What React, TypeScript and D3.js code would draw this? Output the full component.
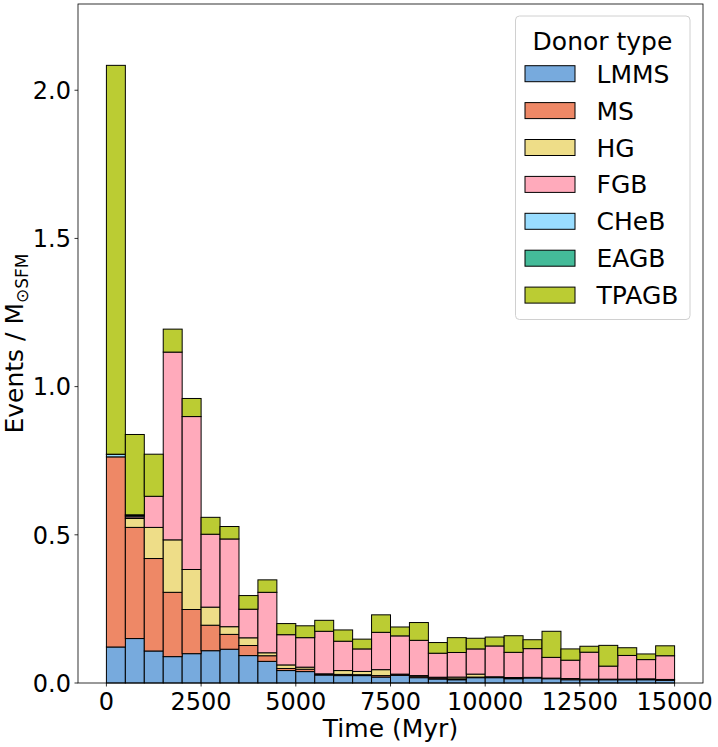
import { useEffect, useRef } from "react";
import * as d3 from "d3";

// bin starts (Myr), 500 Myr wide
const binStarts: number[] = d3.range(0, 15000, 500);
const binWidth = 500;

const donorTypes = ["LMMS", "MS", "HG", "FGB", "CHeB", "EAGB", "TPAGB"];
const donorColors = ["#77AADD", "#EE8866", "#EEDD88", "#FFAABB", "#99DDFF", "#44BB99", "#BBCC33"];

const lmms = [0.1215, 0.150, 0.108, 0.089, 0.099, 0.109, 0.114, 0.0925, 0.073, 0.042, 0.0385, 0.027, 0.025, 0.025, 0.020, 0.026, 0.018, 0.0135, 0.011, 0.018, 0.018, 0.0145, 0.017, 0.0145, 0.011, 0.011, 0.011, 0.011, 0.011, 0.009];
const ms = [0.6415, 0.375, 0.312, 0.217, 0.149, 0.086, 0.050, 0.034, 0.019, 0.007, 0.008, 0.003, 0.004, 0.003, 0.005, 0.002, 0.005, 0.004, 0.003, 0.002, 0.001, 0.003, 0.002, 0.002, 0.004, 0.002, 0.002, 0.002, 0.003, 0.003];
const hg = [0.0, 0.030, 0.105, 0.177, 0.135, 0.061, 0.026, 0.026, 0.010, 0.012, 0.007, 0.001, 0.013, 0.011, 0.020, 0.002, 0.002, 0.002, 0.006, 0.010, 0.002, 0.001, 0.0, 0.0, 0.0, 0.0, 0.0, 0.0, 0.0, 0.0];
const fgb = [0.0, 0.0055, 0.105, 0.6335, 0.516, 0.246, 0.296, 0.0965, 0.204, 0.102, 0.0995, 0.1435, 0.099, 0.076, 0.126, 0.129, 0.119, 0.081, 0.083, 0.085, 0.104, 0.085, 0.097, 0.070, 0.062, 0.091, 0.044, 0.080, 0.065, 0.080];
const cheb = [0.008, 0.004, 0, 0, 0, 0, 0, 0, 0, 0, 0, 0, 0, 0, 0, 0, 0, 0, 0, 0, 0, 0, 0, 0, 0, 0, 0, 0, 0, 0];
const eagb = [0.001, 0.003, 0, 0, 0, 0, 0, 0, 0, 0, 0, 0, 0, 0, 0, 0, 0, 0, 0, 0, 0, 0, 0, 0, 0, 0, 0, 0, 0, 0];
const tpagb = [1.312, 0.271, 0.142, 0.0775, 0.061, 0.057, 0.042, 0.046, 0.042, 0.0375, 0.040, 0.037, 0.038, 0.033, 0.059, 0.030, 0.060, 0.036, 0.050, 0.036, 0.030, 0.056, 0.030, 0.088, 0.038, 0.020, 0.070, 0.026, 0.019, 0.0335];

const xTicks = [0, 2500, 5000, 7500, 10000, 12500, 15000];
const yTicks = [0.0, 0.5, 1.0, 1.5, 2.0];

export default function App() {
    const svgRef = useRef<SVGSVGElement>(null);

    useEffect(() => {
        document.body.style.margin = "0";
        if (!svgRef.current) return;

        const width = 718;
        const height = 747;
        const left = 78, right = 703, top = 4, bottom = 683;
        const font = "DejaVu Sans, sans-serif";

        const svg = d3.select(svgRef.current);
        svg.selectAll("*").remove();
        svg.attr("width", width).attr("height", height);

        const x = d3.scaleLinear().domain([-750, 15750]).range([left, right]);
        const y = d3.scaleLinear().domain([0, 2.291]).range([bottom, top]);

        const series = [lmms, ms, hg, fgb, cheb, eagb, tpagb];
        const rows = binStarts.map((b, i) => {
            const row: Record<string, number> = { bin: b };
            donorTypes.forEach((k, j) => (row[k] = series[j][i]));
            return row;
        });

        const stacked = d3.stack<Record<string, number>>().keys(donorTypes)(rows);

        const bars = svg.append("g");
        stacked.forEach((layer, j) => {
            bars.append("g")
                .selectAll("rect")
                .data(layer.filter((d) => d[1] - d[0] > 0))
                .enter()
                .append("rect")
                .attr("x", (d) => x(d.data.bin))
                .attr("width", (d) => x(d.data.bin + binWidth) - x(d.data.bin))
                .attr("y", (d) => y(d[1]))
                .attr("height", (d) => y(d[0]) - y(d[1]))
                .attr("fill", donorColors[j])
                .attr("stroke", "#000")
                .attr("stroke-width", 1);
        });

        // spines
        svg.append("rect")
            .attr("x", left)
            .attr("y", top)
            .attr("width", right - left)
            .attr("height", bottom - top)
            .attr("fill", "none")
            .attr("stroke", "#000")
            .attr("stroke-width", 0.8);

        // x ticks
        const xg = svg.append("g");
        xTicks.forEach((t) => {
            xg.append("line")
                .attr("x1", x(t)).attr("x2", x(t))
                .attr("y1", bottom).attr("y2", bottom + 3.5)
                .attr("stroke", "#000").attr("stroke-width", 0.8);
            xg.append("text")
                .attr("x", x(t))
                .attr("y", bottom + 26.5)
                .attr("text-anchor", "middle")
                .attr("font-family", font)
                .attr("font-size", "24px")
                .text(String(t));
        });

        // y ticks
        const yg = svg.append("g");
        yTicks.forEach((t) => {
            yg.append("line")
                .attr("x1", left - 3.5).attr("x2", left)
                .attr("y1", y(t)).attr("y2", y(t))
                .attr("stroke", "#000").attr("stroke-width", 0.8);
            yg.append("text")
                .attr("x", left - 7)
                .attr("y", y(t) + 8.7)
                .attr("text-anchor", "end")
                .attr("font-family", font)
                .attr("font-size", "24px")
                .text(t.toFixed(1));
        });

        // axis labels
        svg.append("text")
            .attr("x", (left + right) / 2)
            .attr("y", 736.5)
            .attr("text-anchor", "middle")
            .attr("font-family", font)
            .attr("font-size", "25px")
            .text("Time (Myr)");

        const yl = svg.append("text")
            .attr("transform", `translate(23,${(top + bottom) / 2}) rotate(-90)`)
            .attr("text-anchor", "middle")
            .attr("font-family", font)
            .attr("font-size", "25px");
        yl.append("tspan").text("Events / M");
        yl.append("tspan").attr("font-size", "17px").attr("dy", 4.5).text("⊙SFM");

        // legend
        const lg = svg.append("g");
        lg.append("rect")
            .attr("x", 515.5).attr("y", 16)
            .attr("width", 174.5).attr("height", 303.5)
            .attr("rx", 4)
            .attr("fill", "#fff").attr("fill-opacity", 0.8)
            .attr("stroke", "#d0d0d0").attr("stroke-width", 1);
        lg.append("text")
            .attr("x", 602.5).attr("y", 49.5)
            .attr("text-anchor", "middle")
            .attr("font-family", font)
            .attr("font-size", "25px")
            .text("Donor type");
        donorTypes.forEach((k, i) => {
            const cy = 73.7 + i * 36.9;
            lg.append("rect")
                .attr("x", 525).attr("y", cy - 8)
                .attr("width", 50).attr("height", 16)
                .attr("fill", donorColors[i])
                .attr("stroke", "#000").attr("stroke-width", 1);
            lg.append("text")
                .attr("x", 596.5).attr("y", cy + 9)
                .attr("font-family", font)
                .attr("font-size", "25px")
                .text(k);
        });
    }, []);

    return <svg ref={svgRef} style={{ display: "block" }}></svg>;
}
